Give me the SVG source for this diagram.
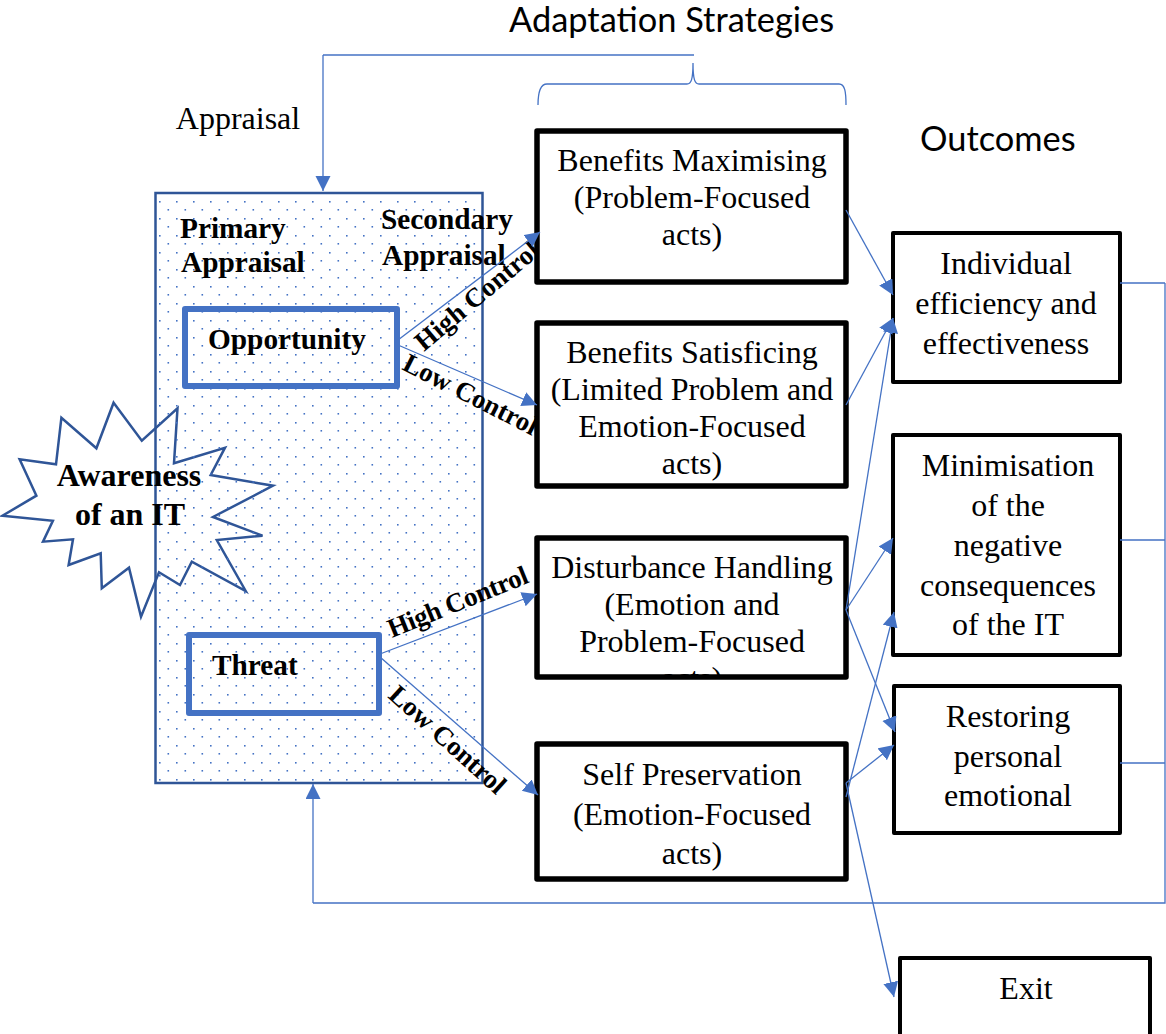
<svg xmlns="http://www.w3.org/2000/svg" width="1166" height="1034" viewBox="0 0 1166 1034">
<style>
.t{font-family:"Liberation Serif","Times New Roman",serif;font-size:32px;fill:#000;text-anchor:middle}
.b{font-family:"Liberation Serif","Times New Roman",serif;font-size:29.3px;font-weight:bold;fill:#000}
.a{font-family:"Liberation Serif","Times New Roman",serif;font-size:32px;font-weight:bold;fill:#000;text-anchor:middle}
.r{font-family:"Liberation Serif","Times New Roman",serif;font-size:27px;font-weight:bold;fill:#000}
.h{font-family:Lato,"Open Sans",sans-serif;font-size:34.4px;fill:#000}
.box{fill:#fff;stroke:#000;stroke-linejoin:round}
.c{fill:none;stroke:#4472c4;stroke-width:1.3}
.ca{fill:none;stroke:#4472c4;stroke-width:1.3;marker-end:url(#arr)}
.inner{fill:none;stroke:#4472c4;stroke-width:6;stroke-linejoin:round}
</style>
<defs>
<marker id="arr" markerUnits="userSpaceOnUse" markerWidth="16" markerHeight="16" refX="15" refY="7.5" orient="auto"><path d="M0 0L15 7.5L0 15Z" fill="#4472c4"/></marker>
<pattern id="dots" patternUnits="userSpaceOnUse" x="155" y="193" width="17" height="17">
<rect x="4" y="8" width="1.6" height="1.6" fill="#4472c4"/><rect x="12.5" y="16" width="1.6" height="1" fill="#4472c4"/><rect x="12.5" y="0" width="1.6" height="0.6" fill="#4472c4"/>
</pattern>
<clipPath id="dh"><rect x="537" y="538" width="309" height="137"/></clipPath>
</defs>
<g id="burst"><polygon points="113.6,402.7 141.8,440.7 177.5,408.3 174,463.3 225,447.7 210.7,475 273,485.7 213,517 262.5,535.7 216.8,540 245.7,591 191.8,561.7 180,585 159,572.3 141,616.7 129,567.7 101.8,588.3 100.7,553.3 68.6,565 73,539.3 43,541.7 52.9,520.7 2.5,515.7 36.4,495.7 19.6,459.3 56,464.3 61.4,417.7 96.4,448.3" fill="#fff" stroke="#2f5597" stroke-width="2.5"/></g>
<g id="appraisal-panel">
<rect x="155.5" y="193" width="327" height="590" fill="url(#dots)" stroke="#2f5597" stroke-width="2.5"/>
<text class="b" x="180" y="238">Primary</text>
<text class="b" x="181" y="272">Appraisal</text>
<text class="b" x="381" y="229">Secondary</text>
<text class="b" x="382" y="265">Appraisal</text>
</g>
<g id="burst-label">
<text class="a" x="129" y="486">Awareness</text>
<text class="a" x="130" y="525">of an IT</text>
</g>
<g id="opportunity"><rect class="inner" x="185" y="309" width="212" height="77"/><text class="b" x="208" y="349">Opportunity</text></g>
<g id="threat"><rect class="inner" x="189" y="635" width="190" height="78"/><text class="b" x="212" y="675">Threat</text></g>
<g id="control-labels">
<text class="r" transform="translate(424,352) rotate(-40)">High Control</text>
<text class="r" transform="translate(401,369) rotate(27)">Low Control</text>
<text class="r" transform="translate(392,638) rotate(-22)" textLength="149">High Control</text>
<text class="r" transform="translate(387,697) rotate(42)">Low Control</text>
</g>
<g id="benefits-max"><rect class="box" stroke-width="5.5" x="537" y="131" width="309" height="151"/>
<text class="t" x="692" y="171">Benefits Maximising</text><text class="t" x="692" y="208">(Problem-Focused</text><text class="t" x="692" y="245">acts)</text></g>
<g id="benefits-sat"><rect class="box" stroke-width="5.5" x="537" y="323" width="309" height="163"/>
<text class="t" x="692" y="363">Benefits Satisficing</text><text class="t" x="692" y="400">(Limited Problem and</text><text class="t" x="692" y="437">Emotion-Focused</text><text class="t" x="692" y="474">acts)</text></g>
<g id="disturbance"><rect class="box" stroke-width="5.5" x="537" y="538" width="309" height="139"/>
<g clip-path="url(#dh)"><text class="t" x="692" y="578">Disturbance Handling</text><text class="t" x="692" y="615">(Emotion and</text><text class="t" x="692" y="652">Problem-Focused</text><text class="t" x="692" y="689">acts)</text></g></g>
<g id="self-preservation"><rect class="box" stroke-width="5.5" x="537" y="744" width="309" height="135"/>
<text class="t" x="692" y="785">Self Preservation</text><text class="t" x="692" y="825">(Emotion-Focused</text><text class="t" x="692" y="864">acts)</text></g>
<g id="individual"><rect class="box" stroke-width="4" x="893" y="233" width="227" height="149"/>
<text class="t" x="1006" y="274">Individual</text><text class="t" x="1006" y="314">efficiency and</text><text class="t" x="1006" y="354">effectiveness</text></g>
<g id="minimisation"><rect class="box" stroke-width="4" x="893" y="435" width="227" height="220"/>
<text class="t" x="1008" y="476">Minimisation</text><text class="t" x="1008" y="516">of the</text><text class="t" x="1008" y="556">negative</text><text class="t" x="1008" y="596">consequences</text><text class="t" x="1008" y="635">of the IT</text></g>
<g id="restoring"><rect class="box" stroke-width="4" x="894" y="686" width="226" height="147"/>
<text class="t" x="1008" y="727">Restoring</text><text class="t" x="1008" y="767">personal</text><text class="t" x="1008" y="806">emotional</text></g>
<g id="exit"><rect class="box" stroke-width="4" x="900" y="958" width="250" height="78"/><text class="t" x="1026" y="999">Exit</text></g>
<g id="connectors">
<path class="c" d="M694 55H323"/>
<path class="ca" d="M323 55V191"/>
<path class="c" d="M538 105C538 92 540 84 547 84H687C691 84 693 80 693 63C693 80 695 84 699 84H839C845 84 846 92 846 105"/>
<path class="c" d="M1120 283H1165M1120 540H1165M1120 763H1165M1165 283V903H313"/>
<path class="ca" d="M313 903V784"/>
<path class="ca" d="M398 340L540 232"/>
<path class="ca" d="M398 345L537 405"/>
<path class="ca" d="M380 654L537 594"/>
<path class="ca" d="M380 657L538 795"/>
<path class="ca" d="M846 210L893 295"/>
<path class="ca" d="M846 405L893 318"/>
<path class="ca" d="M846 610L893 318"/>
<path class="ca" d="M846 610L893 538"/>
<path class="ca" d="M846 610L895 732"/>
<path class="ca" d="M846 797L894 612"/>
<path class="ca" d="M846 783L894 745"/>
<path class="ca" d="M846 783L894 997"/>
</g>
<text class="t" x="238" y="129">Appraisal</text>
<text class="h" x="509" y="32">Adaptation Strategies</text>
<text class="h" x="920" y="151">Outcomes</text>
</svg>
